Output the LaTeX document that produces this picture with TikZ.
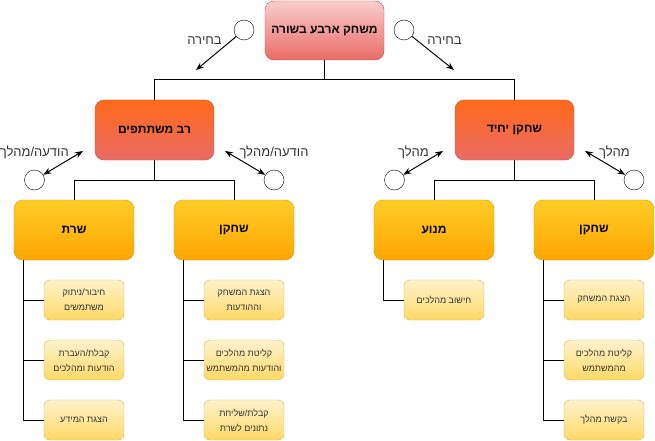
\documentclass[tikz,border=0pt]{standalone}
\usepackage{fontspec}
\usetikzlibrary{arrows.meta}
\TeXXeTstate=1
\newfontfamily\hebfont[Script=Hebrew]{Liberation Sans}
\newcommand{\rl}[1]{\beginR #1\endR}

\definecolor{rootTop}{HTML}{F8CECC}
\definecolor{rootBot}{HTML}{EA6B66}
\definecolor{rootLine}{HTML}{B85450}
\definecolor{modeTop}{HTML}{FF6A1A}
\definecolor{modeBot}{HTML}{EA6B66}
\definecolor{modeLine}{HTML}{B85450}
\definecolor{partTop}{HTML}{FFCD28}
\definecolor{partBot}{HTML}{FFA500}
\definecolor{partLine}{HTML}{D79B00}
\definecolor{taskTop}{HTML}{FFF2CC}
\definecolor{taskBot}{HTML}{FFD966}
\definecolor{taskLine}{HTML}{D6B656}
\definecolor{labelGray}{HTML}{333333}

\tikzset{
  rootbox/.style={draw=rootLine, top color=rootTop, bottom color=rootBot,
    rounded corners=9pt, minimum width=119pt, minimum height=59pt,
    font=\hebfont\bfseries\fontsize{12}{14}\selectfont, inner sep=0pt},
  modebox/.style={draw=modeLine, top color=modeTop, bottom color=modeBot,
    rounded corners=9pt, minimum width=119pt, minimum height=60pt,
    font=\hebfont\bfseries\fontsize{12}{14}\selectfont, inner sep=0pt},
  partbox/.style={draw=partLine, top color=partTop, bottom color=partBot,
    rounded corners=9pt, minimum width=120pt, minimum height=60pt,
    font=\hebfont\bfseries\fontsize{12}{14}\selectfont, inner sep=0pt},
  taskbox/.style={draw=taskLine, top color=taskTop, bottom color=taskBot,
    rounded corners=6pt, minimum width=80pt, minimum height=40pt,
    font=\hebfont\fontsize{9}{15}\selectfont, text=labelGray,
    align=center, inner sep=0pt},
  port/.style={circle, draw=black, fill=white, minimum size=20pt, inner sep=0pt},
  edgelabel/.style={font=\hebfont\fontsize{13}{15}\selectfont, text=labelGray, inner sep=0pt},
  tree/.style={draw=black, line width=1pt},
  choice/.style={draw=black, line width=1pt, -{Stealth[length=8pt,width=6pt]}},
  msg/.style={draw=black, line width=1pt,
    {Stealth[length=8pt,width=6pt]}-{Stealth[length=8pt,width=6pt]}}
}

\begin{document}
\begin{tikzpicture}[x=1pt, y=-1pt]
\useasboundingbox (0,0) rectangle (655,441);

% root and game modes
\node[rootbox] (root) at (324.5,30.5) {\rl{משחק ארבע בשורה}};
\node[modebox] (multi) at (154.5,130) {\rl{רב משתתפים}};
\node[modebox] (single) at (514.5,130) {\rl{שחקן יחיד}};

% components
\node[partbox] (server) at (74,230) {\rl{שרת}};
\node[partbox] (client) at (234,230) {\rl{שחקן}};
\node[partbox] (engine) at (434,230) {\rl{מנוע}};
\node[partbox] (player) at (594,230) {\rl{שחקן}};

% tasks of each component
\node[taskbox] (s1) at (84,300) {\rl{חיבור/ניתוק}\\\rl{משתמשים}};
\node[taskbox] (s2) at (84,360) {\rl{קבלת/העברת}\\\rl{הודעות ומהלכים}};
\node[taskbox] (s3) at (84,420) {\rl{הצגת המידע}};
\node[taskbox] (c1) at (244,300) {\rl{הצגת המשחק}\\\rl{וההודעות}};
\node[taskbox] (c2) at (244,360) {\rl{קליטת מהלכים}\\\rl{והודעות מהמשתמש}};
\node[taskbox] (c3) at (244,420) {\rl{קבלת/שליחת}\\\rl{נתונים לשרת}};
\node[taskbox] (e1) at (444,300) {\rl{חישוב מהלכים}};
\node[taskbox] (p1) at (604,300) {\rl{הצגת המשחק}};
\node[taskbox] (p2) at (604,360) {\rl{קליטת מהלכים}\\\rl{מהמשתמש}};
\node[taskbox] (p3) at (604,420) {\rl{בקשת מהלך}};

% tree connectors
\coordinate (bus0) at (324.5,80);
\coordinate (busM) at (154.5,180);
\coordinate (busS) at (514.5,180);
\draw[tree] (root.south) -- (bus0) -| (multi.north);
\draw[tree] (bus0) -| (single.north);
\draw[tree] (multi.south) -- (busM) -| (server.north);
\draw[tree] (busM) -| (client.north);
\draw[tree] (single.south) -- (busS) -| (engine.north);
\draw[tree] (busS) -| (player.north);

\foreach \part/\task in {server/s1,server/s2,server/s3,client/c1,client/c2,client/c3,engine/e1,player/p1,player/p2,player/p3}
  \draw[tree] ([xshift=10pt]\part.south west) |- (\task.west);

% choice of mode
\node[port] (chL) at (244,30) {};
\node[port] (chR) at (404,30) {};
\coordinate (chLend) at (196,70);
\coordinate (chRend) at (454,70);
\draw[choice] (chL) -- (chLend);
\draw[choice] (chR) -- (chRend);
\node[edgelabel] (lchL) at (204.5,41) {\rl{בחירה}};
\node[edgelabel] (lchR) at (444.5,41) {\rl{בחירה}};

% message / move exchange
\node[port] (mA) at (34.5,180) {};
\node[port] (mB) at (274,180) {};
\node[port] (mC) at (394.5,180) {};
\node[port] (mD) at (634,180) {};
\coordinate (mAend) at (83,151);
\coordinate (mBend) at (225,151);
\coordinate (mCend) at (443,151);
\coordinate (mDend) at (585,151);
\draw[msg] (mA) -- (mAend);
\draw[msg] (mB) -- (mBend);
\draw[msg] (mC) -- (mCend);
\draw[msg] (mD) -- (mDend);
\node[edgelabel, anchor=east] (lmA) at (69,152) {\rl{הודעה/מהלך}};
\node[edgelabel] (lmB) at (274,152) {\rl{הודעה/מהלך}};
\node[edgelabel] (lmC) at (413.5,152) {\rl{מהלך}};
\node[edgelabel] (lmD) at (614.5,152) {\rl{מהלך}};
\end{tikzpicture}
\end{document}
